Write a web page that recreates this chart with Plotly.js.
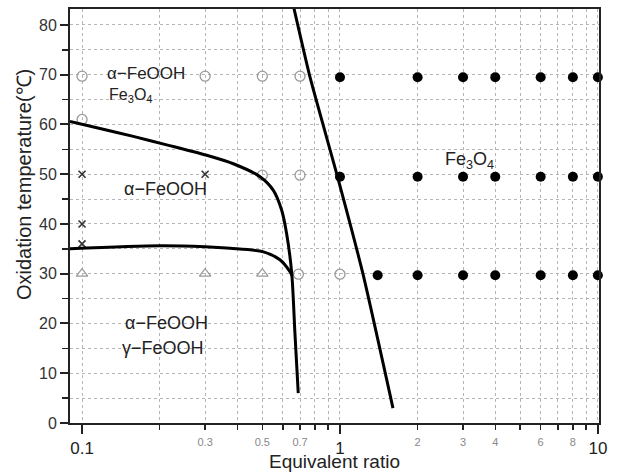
<!DOCTYPE html>
<html>
<head>
<meta charset="utf-8">
<script src="https://cdn.plot.ly/plotly-3.0.1.min.js"></script>
<style>html,body{margin:0;padding:0;background:#fff}#chart{width:620px;height:472px}</style>
</head>
<body>
<div id="chart"></div>
<script>
// ---- data ----
// Fe3O4 points (filled black circles)
const fe3o4X = [1, 2, 3, 4, 6, 8, 10, 1, 2, 3, 4, 6, 8, 10, 1.4, 2, 3, 4, 6, 8, 10];
const fe3o4Y = [69.5, 69.5, 69.5, 69.5, 69.5, 69.5, 69.5, 49.5, 49.5, 49.5, 49.5, 49.5, 49.5, 49.5, 29.7, 29.7, 29.7, 29.7, 29.7, 29.7, 29.7];
// open grey circles
const openCircX = [0.1, 0.3, 0.5, 0.7, 0.1, 0.5, 0.7, 0.69, 1];
const openCircY = [69.7, 69.7, 69.7, 69.7, 61, 49.8, 49.8, 29.9, 29.9];
// crosses
const crossX = [0.1, 0.3, 0.1, 0.1];
const crossY = [50, 50, 40, 36];
// open triangles
const triX = [0.1, 0.3, 0.5];
const triY = [30, 30, 30];
// boundary curves
const upperX = [0.0898, 0.1174, 0.158, 0.2129, 0.3042, 0.3858, 0.49, 0.551, 0.594, 0.621, 0.650, 0.669, 0.689];
const upperY = [60.6, 59.2, 57.6, 55.9, 53.8, 52.1, 49.5, 46.8, 42.8, 38.1, 30.1, 18.0, 6.0];
const lowerX = [0.0898, 0.2, 0.3, 0.375, 0.505, 0.585, 0.64, 0.652];
const lowerY = [35.0, 35.6, 35.4, 35.1, 34.4, 32.8, 30.4, 29.6];
const diagX = [0.652, 0.765, 0.974, 1.228, 1.605];
const diagY = [85, 69.55, 49.85, 29.95, 3.0];
// axis ticks
const majorXTicks = [0.1, 1, 10];
const majorXLabels = ['0.1', '1', '10'];
const minorXLabelVals = [0.3, 0.5, 0.7, 2, 3, 4, 6, 8];
const minorXLabels = ['0.3', '0.5', '0.7', '2', '3', '4', '6', '8'];
const minorXTicks = [0.2, 0.3, 0.4, 0.5, 0.6, 0.7, 0.8, 0.9, 2, 3, 4, 5, 6, 7, 8, 9];
const yTicks = [0, 10, 20, 30, 40, 50, 60, 70, 80];
const yMinorTicks = [5, 15, 25, 35, 45, 55, 65, 75];
// region labels
const regionLabels = ['α−FeOOH', 'Fe<sub>3</sub>O<sub>4</sub>', 'α−FeOOH', 'α−FeOOH', 'γ−FeOOH', 'Fe<sub>3</sub>O<sub>4</sub>'];

const FONT = 'Liberation Sans, Arial, sans-serif';
const xRange = [Math.log10(0.0898), Math.log10(10.1)];
const gridStyle = {showgrid: true, gridcolor: '#b5b5b5', griddash: 'dot', gridwidth: 1};

const lineStyle = {color: '#000', width: 3, shape: 'spline', smoothing: 0.8};

const traces = [
  {x: openCircX, y: openCircY, mode: 'markers', type: 'scatter', cliponaxis: false,
   marker: {symbol: 'circle-open', size: 10, color: '#9a9a9a', line: {width: 1.3, color: '#9a9a9a'}}},
  {x: crossX, y: crossY, mode: 'markers', type: 'scatter', cliponaxis: false,
   marker: {symbol: 'x-thin-open', size: 7, color: '#333', line: {width: 1.6, color: '#333'}}},
  {x: triX, y: triY, mode: 'markers', type: 'scatter', xaxis: 'x2', cliponaxis: false,
   marker: {symbol: 'triangle-up-open', size: 10, color: '#9a9a9a', line: {width: 1.3, color: '#9a9a9a'}}},
  {x: upperX, y: upperY, mode: 'lines', type: 'scatter', line: lineStyle},
  {x: lowerX, y: lowerY, mode: 'lines', type: 'scatter', line: lineStyle},
  {x: diagX, y: diagY, mode: 'lines', type: 'scatter', line: {color: '#000', width: 3, shape: 'spline', smoothing: 0.5}},
  {x: fe3o4X, y: fe3o4Y, mode: 'markers', type: 'scatter', cliponaxis: false,
   marker: {symbol: 'circle', size: 10, color: '#000'}}
];

const labelPos = [
  {x: 0.177, y: 70.3, size: 17},
  {x: 0.155, y: 65.9, size: 16},
  {x: 0.21, y: 47.0, size: 18},
  {x: 0.2126, y: 20.0, size: 18},
  {x: 0.2065, y: 15.0, size: 18},
  {x: 3.19, y: 52.8, size: 18}
];

const annotations = regionLabels.map((t, i) => ({
  text: t, x: Math.log10(labelPos[i].x), y: labelPos[i].y, xref: 'x', yref: 'y',
  showarrow: false, xanchor: 'center', yanchor: 'middle',
  font: {family: FONT, size: labelPos[i].size, color: '#222'}
}));
annotations.push({
  text: 'Oxidation temperature(℃)', xref: 'paper', yref: 'paper',
  x: (24 - 70) / 529, y: (423 - 185) / 414, textangle: -90, showarrow: false,
  xanchor: 'center', yanchor: 'middle', font: {family: FONT, size: 20, color: '#222'}
});

const layout = {
  width: 620, height: 472,
  margin: {l: 70, r: 21, t: 9, b: 49, pad: 0},
  paper_bgcolor: '#fff', plot_bgcolor: '#fff',
  showlegend: false, hovermode: false,
  font: {family: FONT, color: '#222'},
  xaxis: Object.assign({
    type: 'log', range: xRange, autorange: false,
    tickmode: 'array', tickvals: majorXTicks, ticktext: majorXLabels,
    ticks: 'outside', ticklen: 9, tickwidth: 2, tickcolor: '#222',
    tickfont: {family: FONT, size: 17, color: '#222'},
    showline: true, linecolor: '#222', linewidth: 2, mirror: true, zeroline: false,
    minor: {tickmode: 'array', tickvals: minorXTicks, ticks: 'outside', ticklen: 5, tickwidth: 1.5, tickcolor: '#222',
            showgrid: true, gridcolor: '#b5b5b5', griddash: 'dot', gridwidth: 1},
    title: {text: 'Equivalent ratio', font: {family: FONT, size: 19, color: '#222'}, standoff: 1},
    automargin: false
  }, gridStyle),
  xaxis2: {
    type: 'log', range: xRange, autorange: false, overlaying: 'x', anchor: 'y', side: 'bottom',
    tickmode: 'array', tickvals: minorXLabelVals, ticktext: minorXLabels,
    ticks: 'outside', ticklen: 9, tickcolor: 'rgba(0,0,0,0)',
    tickfont: {family: FONT, size: 11, color: '#888'},
    showgrid: false, showline: false, zeroline: false, automargin: false
  },
  yaxis: Object.assign({
    range: [0, 83.2], autorange: false,
    tickmode: 'array', tickvals: yTicks,
    ticks: 'outside', ticklen: 8, tickwidth: 2, tickcolor: '#222',
    tickfont: {family: FONT, size: 16, color: '#333'},
    showline: true, linecolor: '#222', linewidth: 2, mirror: true, zeroline: false,
    minor: {tickmode: 'array', tickvals: yMinorTicks, ticks: 'outside', ticklen: 6, tickwidth: 1.5, tickcolor: '#222',
            showgrid: true, gridcolor: '#b5b5b5', griddash: 'dot', gridwidth: 1},
    automargin: false
  }, gridStyle),
  annotations: annotations
};

Plotly.newPlot('chart', traces, layout, {staticPlot: true, displayModeBar: false});
</script>
</body>
</html>
